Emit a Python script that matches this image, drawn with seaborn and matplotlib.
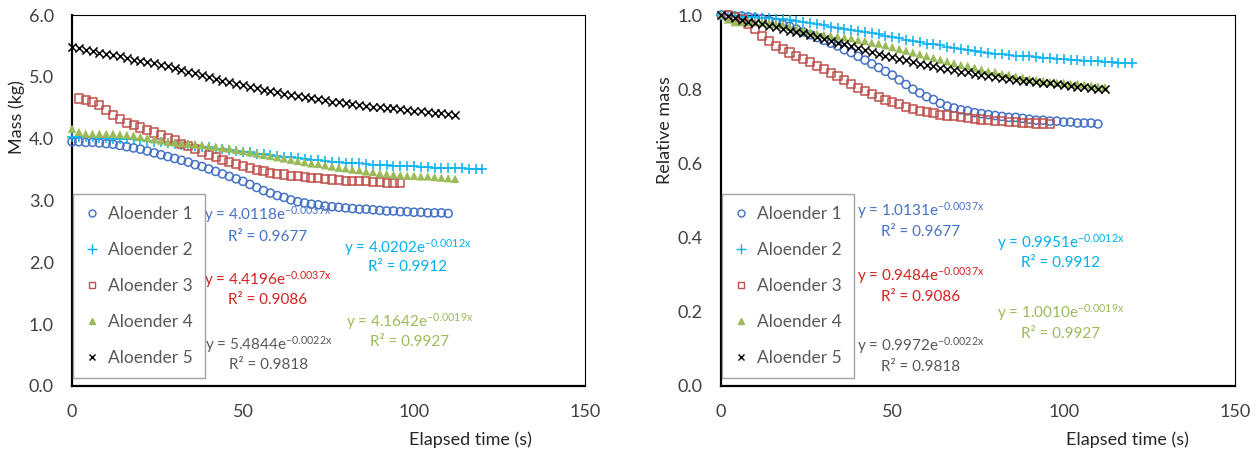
import numpy as np
import pandas as pd
import matplotlib
matplotlib.use('Agg')
import matplotlib.pyplot as plt
import seaborn as sns

# mass readings (kg), one reading every 2 s
STEP = 2
start_times = [0, 0, 2, 0, 0]
names = ['Aloender 1', 'Aloender 2', 'Aloender 3', 'Aloender 4', 'Aloender 5']

mass_1 = [3.95, 3.95, 3.94, 3.94, 3.93, 3.92, 3.91, 3.89, 3.87, 3.85,
          3.83, 3.80, 3.77, 3.74, 3.71, 3.68, 3.65, 3.62, 3.58, 3.55,
          3.51, 3.47, 3.43, 3.39, 3.35, 3.31, 3.26, 3.21, 3.16, 3.12,
          3.08, 3.05, 3.01, 2.98, 2.96, 2.94, 2.93, 2.91, 2.90, 2.89,
          2.88, 2.87, 2.86, 2.86, 2.85, 2.84, 2.83, 2.83, 2.82, 2.82,
          2.81, 2.81, 2.80, 2.80, 2.80, 2.79]
mass_2 = [4.03, 4.03, 4.02, 4.02, 4.01, 4.01, 4.00, 4.00, 3.99, 3.99,
          3.98, 3.96, 3.95, 3.94, 3.93, 3.92, 3.90, 3.89, 3.88, 3.87,
          3.86, 3.84, 3.83, 3.82, 3.80, 3.79, 3.78, 3.76, 3.75, 3.74,
          3.72, 3.71, 3.70, 3.68, 3.67, 3.66, 3.65, 3.64, 3.63, 3.62,
          3.61, 3.61, 3.60, 3.59, 3.58, 3.58, 3.57, 3.56, 3.56, 3.55,
          3.55, 3.54, 3.54, 3.53, 3.53, 3.53, 3.52, 3.52, 3.51, 3.51,
          3.51]
mass_3 = [4.65, 4.63, 4.60, 4.54, 4.47, 4.39, 4.32, 4.26, 4.22, 4.18,
          4.14, 4.10, 4.06, 4.01, 3.97, 3.92, 3.88, 3.83, 3.79, 3.74,
          3.70, 3.66, 3.62, 3.59, 3.56, 3.53, 3.50, 3.47, 3.45, 3.43,
          3.42, 3.40, 3.39, 3.38, 3.37, 3.36, 3.35, 3.34, 3.33, 3.32,
          3.32, 3.31, 3.31, 3.30, 3.30, 3.29, 3.29, 3.28]
mass_4 = [4.16, 4.11, 4.08, 4.08, 4.08, 4.08, 4.08, 4.07, 4.06, 4.05,
          4.03, 4.01, 3.99, 3.97, 3.95, 3.94, 3.93, 3.92, 3.91, 3.90,
          3.88, 3.87, 3.85, 3.84, 3.82, 3.80, 3.78, 3.76, 3.74, 3.72,
          3.70, 3.68, 3.66, 3.64, 3.62, 3.60, 3.59, 3.57, 3.55, 3.53,
          3.52, 3.50, 3.49, 3.47, 3.46, 3.44, 3.43, 3.42, 3.41, 3.40,
          3.40, 3.39, 3.39, 3.38, 3.37, 3.36, 3.35]
mass_5 = [5.49, 5.47, 5.44, 5.42, 5.39, 5.37, 5.35, 5.33, 5.31, 5.28,
          5.26, 5.24, 5.22, 5.19, 5.17, 5.14, 5.11, 5.08, 5.06, 5.03,
          5.00, 4.97, 4.94, 4.92, 4.89, 4.87, 4.84, 4.82, 4.79, 4.77,
          4.75, 4.73, 4.71, 4.69, 4.67, 4.65, 4.64, 4.62, 4.60, 4.59,
          4.57, 4.56, 4.54, 4.53, 4.52, 4.51, 4.50, 4.49, 4.48, 4.47,
          4.45, 4.44, 4.43, 4.42, 4.41, 4.40, 4.39]

# exponential trendlines shown on the charts
fit_mass = ['y = 4.0118e$^{\\mathrm{-0.0037x}}$', 'y = 4.0202e$^{\\mathrm{-0.0012x}}$',
            'y = 4.4196e$^{\\mathrm{-0.0037x}}$', 'y = 4.1642e$^{\\mathrm{-0.0019x}}$',
            'y = 5.4844e$^{\\mathrm{-0.0022x}}$']
fit_rel = ['y = 1.0131e$^{\\mathrm{-0.0037x}}$', 'y = 0.9951e$^{\\mathrm{-0.0012x}}$',
           'y = 0.9484e$^{\\mathrm{-0.0037x}}$', 'y = 1.0010e$^{\\mathrm{-0.0019x}}$',
           'y = 0.9972e$^{\\mathrm{-0.0022x}}$']
r2 = ['R² = 0.9677', 'R² = 0.9912', 'R² = 0.9086', 'R² = 0.9927', 'R² = 0.9818']

mass_ticks = [0, 1, 2, 3, 4, 5, 6]
rel_ticks = [0, 0.2, 0.4, 0.6, 0.8, 1.0]
time_ticks = [0, 50, 100, 150]

# styling
marker_col = ['#4472C4', '#00B0F0', '#C0504D', '#9BBB59', '#000000']
text_col = ['#4472C4', '#00B0F0', '#D42020', '#9BBB59', '#595959']
markers = ['o', '+', 's', '^', 'x']
hollow = [True, False, True, False, False]
sizes = [34, 60, 34, 36, 34]
# equation label positions (axes fraction): x, y of equation line, y of R2 line
eq_pos_l = [(0.382, 0.461, 0.402), (0.655, 0.372, 0.321), (0.382, 0.288, 0.232),
            (0.658, 0.173, 0.119), (0.384, 0.111, 0.057)]
eq_pos_r = [(0.389, 0.472, 0.415), (0.660, 0.388, 0.332), (0.389, 0.299, 0.240),
            (0.660, 0.197, 0.140), (0.389, 0.108, 0.051)]

sns.set_theme(style='white')
plt.rcParams['font.family'] = ['Lato', 'DejaVu Sans']
plt.rcParams['mathtext.fontset'] = 'custom'
plt.rcParams['mathtext.rm'] = 'Lato'
plt.rcParams['mathtext.it'] = 'Lato:italic'

rows = []
for i, m in enumerate([mass_1, mass_2, mass_3, mass_4, mass_5]):
    m = np.array(m)
    t = start_times[i] + STEP * np.arange(len(m))
    rows.append(pd.DataFrame({'series': names[i], 'time': t, 'mass': m, 'rel': m / m[0]}))
df = pd.concat(rows, ignore_index=True)

fig = plt.figure(figsize=(12.6, 4.54), dpi=100)
ax_l = fig.add_axes([72 / 1260, 1 - 386 / 454, 513 / 1260, 371 / 454])
ax_r = fig.add_axes([721 / 1260, 1 - 386 / 454, 514 / 1260, 371 / 454])

grey = '#595959'
for ax, col, yt, fits, pos in [
        (ax_l, 'mass', mass_ticks, fit_mass, eq_pos_l),
        (ax_r, 'rel', rel_ticks, fit_rel, eq_pos_r)]:
    for i, name in enumerate(names):
        sub = df[df['series'] == name]
        kw = dict(marker=markers[i], s=sizes[i], linewidth=1.1, clip_on=False, zorder=3)
        if hollow[i]:
            kw.update(facecolor='none', edgecolor=marker_col[i])
        else:
            kw.update(color=marker_col[i])
            if markers[i] == '^':
                kw.update(edgecolor='none')
        sns.scatterplot(data=sub, x='time', y=col, ax=ax, legend=False, **kw)

    ax.set_xlim(0, 150)
    ax.set_ylim(yt[0], yt[-1])
    ax.set_xticks(time_ticks)
    ax.set_xticklabels([str(v) for v in time_ticks])
    ax.set_yticks(yt)
    ax.set_yticklabels(['{:.1f}'.format(v) for v in yt])
    ax.tick_params(axis='both', length=0, labelsize=13, colors='#404040')
    ax.tick_params(axis='x', pad=13)
    ax.tick_params(axis='y', pad=13)
    ax.set_xlabel('')
    ax.set_ylabel('')
    for side in ['top', 'right']:
        ax.spines[side].set_color('#000000')
        ax.spines[side].set_linewidth(0.8)
    for side in ['left', 'bottom']:
        ax.spines[side].set_color('#000000')
        ax.spines[side].set_linewidth(1.6)
    ax.grid(False)

    for i in range(5):
        x, y1, y2 = pos[i]
        ax.text(x, y1, fits[i], transform=ax.transAxes, ha='center', va='center',
                fontsize=11, color=text_col[i])
        ax.text(x, y2, r2[i], transform=ax.transAxes, ha='center', va='center',
                fontsize=11, color=text_col[i])

    handles = []
    for i in range(5):
        h = plt.Line2D([], [], linestyle='', marker=markers[i], markersize=5 if markers[i] != '+' else 7,
                       markerfacecolor='none' if hollow[i] else marker_col[i],
                       markeredgecolor=marker_col[i], markeredgewidth=1.0)
        handles.append(h)
    leg = ax.legend(handles, names, loc='lower left', bbox_to_anchor=(0.002, 0.022),
                    borderaxespad=0, frameon=True, fancybox=False, fontsize=12.5,
                    labelspacing=1.15, handlelength=0.8, handletextpad=0.5,
                    borderpad=0.7, labelcolor=grey)
    leg.get_frame().set_edgecolor('#8c8c8c')
    leg.get_frame().set_linewidth(1.0)

ax_l.text(-0.108, 0.725, 'Mass (kg)', transform=ax_l.transAxes, rotation=90,
          ha='center', va='center', fontsize=13, color='#262626')
ax_r.text(-0.109, 0.69, 'Relative mass', transform=ax_r.transAxes, rotation=90,
          ha='center', va='center', fontsize=13, color='#262626')
ax_l.text(0.776, -0.146, 'Elapsed time (s)', transform=ax_l.transAxes,
          ha='center', va='center', fontsize=13, color='#262626')
ax_r.text(0.79, -0.146, 'Elapsed time (s)', transform=ax_r.transAxes,
          ha='center', va='center', fontsize=13, color='#262626')

fig.savefig('out.png', dpi=100, facecolor='white')
